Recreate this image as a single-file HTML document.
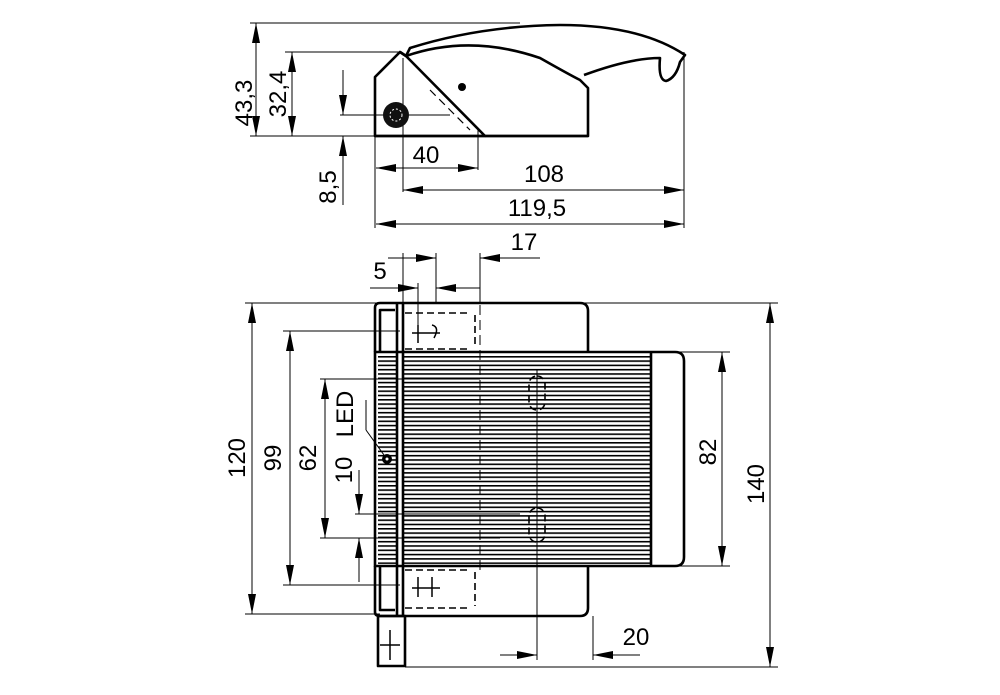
<!DOCTYPE html>
<html><head><meta charset="utf-8"><style>
html,body{margin:0;padding:0;background:#fff;}
svg{display:block}
text{font-family:"Liberation Sans Narrow","Liberation Sans",sans-serif;font-size:24px;fill:#000}
</style></head><body>
<svg width="1000" height="695" viewBox="0 0 1000 695" xmlns="http://www.w3.org/2000/svg">
<defs>
<marker id="a" viewBox="0 0 20 8" refX="20" refY="4" markerWidth="20" markerHeight="8" markerUnits="userSpaceOnUse" orient="auto-start-reverse"><path d="M0,0L20,4L0,8Z" fill="#000"/></marker>
<pattern id="rib" x="0" y="356" width="10" height="4.3" patternUnits="userSpaceOnUse"><rect x="0" y="0" width="10" height="1.6" fill="#000"/></pattern>
</defs>
<g fill="none" stroke="#000" stroke-width="1">
<line x1="250" y1="23" x2="520" y2="23"/>
<line x1="285" y1="52" x2="400" y2="52"/>
<line x1="250" y1="136" x2="375" y2="136"/>
<line x1="340" y1="115" x2="450" y2="115"/>
<line x1="375" y1="136" x2="375" y2="228"/>
<line x1="403" y1="58" x2="403" y2="192"/>
<line x1="478" y1="130" x2="478" y2="170"/>
<line x1="684" y1="52" x2="684" y2="228"/>
<line x1="256" y1="23" x2="256" y2="136" marker-start="url(#a)" marker-end="url(#a)"/>
<line x1="292" y1="52" x2="292" y2="136" marker-start="url(#a)" marker-end="url(#a)"/>
<line x1="343" y1="70" x2="343" y2="115" marker-end="url(#a)"/>
<line x1="343" y1="205" x2="343" y2="136" marker-end="url(#a)"/>
<line x1="376" y1="168" x2="478" y2="168" marker-start="url(#a)" marker-end="url(#a)"/>
<line x1="403" y1="190" x2="684" y2="190" marker-start="url(#a)" marker-end="url(#a)"/>
<line x1="376" y1="224" x2="684" y2="224" marker-start="url(#a)" marker-end="url(#a)"/>
</g>
<g fill="none" stroke="#000" stroke-width="2.6" stroke-linejoin="round">
<path d="M375,136 L375,77 L400,52 L406,56 L485,136 Z"/>
<path d="M400,52 L406,56 Q470,34 540,58 Q570,75 580,80 L588,88 L588,136 L485,136"/>
<path d="M406,56 L410,48 Q480,26 560,25 Q640,25 685,55 L680,62 Q676,78 666,81 Q658,80 660,58 Q630,58 584,75"/>
<line x1="375" y1="136" x2="588" y2="136"/>
</g>
<circle cx="396" cy="115" r="13" fill="#111"/>
<circle cx="396" cy="115" r="6" fill="none" stroke="#fff" stroke-width="1" stroke-dasharray="2 2"/>
<circle cx="462" cy="87" r="4" fill="#000"/>
<line x1="430" y1="90" x2="470" y2="130" stroke="#000" stroke-width="1.2" stroke-dasharray="8 5"/>
<text x="252" y="103" transform="rotate(-90 252 103)" text-anchor="middle">43,3</text>
<text x="286" y="94" transform="rotate(-90 286 94)" text-anchor="middle">32,4</text>
<text x="336" y="187" transform="rotate(-90 336 187)" text-anchor="middle">8,5</text>
<text x="426" y="163" text-anchor="middle">40</text>
<text x="544" y="182" text-anchor="middle">108</text>
<text x="537" y="216" text-anchor="middle">119,5</text>

<g fill="none" stroke="#000" stroke-width="1">
<line x1="245" y1="303" x2="778" y2="303"/>
<line x1="283" y1="331" x2="400" y2="331"/>
<line x1="320" y1="379" x2="480" y2="379"/>
<line x1="320" y1="538" x2="500" y2="538"/>
<line x1="355" y1="514" x2="520" y2="514"/>
<line x1="283" y1="585" x2="400" y2="585"/>
<line x1="245" y1="614" x2="380" y2="614"/>
<line x1="590" y1="352" x2="730" y2="352"/>
<line x1="640" y1="566" x2="730" y2="566"/>
<line x1="405" y1="667" x2="778" y2="667"/>
<line x1="403" y1="253" x2="403" y2="303"/>
<line x1="418" y1="283" x2="418" y2="335"/>
<line x1="436" y1="253" x2="436" y2="303"/>
<line x1="480" y1="253" x2="480" y2="303"/>
<line x1="537" y1="370" x2="537" y2="660"/>
<line x1="593" y1="616" x2="593" y2="660"/>
<line x1="252" y1="303" x2="252" y2="614" marker-start="url(#a)" marker-end="url(#a)"/>
<line x1="290" y1="331" x2="290" y2="585" marker-start="url(#a)" marker-end="url(#a)"/>
<line x1="325" y1="379" x2="325" y2="538" marker-start="url(#a)" marker-end="url(#a)"/>
<line x1="359" y1="470" x2="359" y2="514" marker-end="url(#a)"/>
<line x1="359" y1="582" x2="359" y2="538" marker-end="url(#a)"/>
<line x1="722" y1="352" x2="722" y2="566" marker-start="url(#a)" marker-end="url(#a)"/>
<line x1="770" y1="303" x2="770" y2="667" marker-start="url(#a)" marker-end="url(#a)"/>
<line x1="500" y1="655" x2="537" y2="655" marker-end="url(#a)"/>
<line x1="640" y1="655" x2="593" y2="655" marker-end="url(#a)"/>
<line x1="388" y1="258" x2="436" y2="258" marker-end="url(#a)"/>
<line x1="540" y1="258" x2="480" y2="258" marker-end="url(#a)"/>
<line x1="370" y1="288" x2="418" y2="288" marker-end="url(#a)"/>
<line x1="480" y1="288" x2="436" y2="288" marker-end="url(#a)"/>
<line x1="366" y1="430" x2="384" y2="455"/>
<line x1="366" y1="430" x2="366" y2="400"/>
<line x1="480" y1="260" x2="480" y2="570" stroke-dasharray="10 5"/>
</g>
<rect x="403" y="356" width="248" height="208" fill="url(#rib)"/>
<rect x="378" y="356" width="19" height="208" fill="url(#rib)"/>
<g fill="none" stroke="#000" stroke-width="2.6" stroke-linejoin="round">
<path d="M375,352 L375,308 Q375,303 380,303 L580,303 Q588,303 588,311 L588,352"/>
<path d="M375,566 L375,612 Q375,616 380,616 L580,616 Q588,616 588,608 L588,566"/>
<path d="M375,352 L675,352 Q684,352 684,361 L684,557 Q684,566 675,566 L375,566 Z"/>
<line x1="651" y1="352" x2="651" y2="566"/>
<line x1="397" y1="303" x2="397" y2="616"/>
<line x1="403" y1="303" x2="403" y2="616"/>
<path d="M380,352 L380,310 L395,310"/>
<path d="M380,566 L380,610 L395,610"/>
<rect x="378" y="616" width="27" height="50"/>
</g>
<g fill="none" stroke="#000" stroke-width="1.6" stroke-dasharray="7 4">
<path d="M405,313 L470,313 M405,349 L470,349 M405,570 L470,570 M405,608 L470,608"/>
<path d="M475,315 L475,345 M475,572 L475,606"/>
<rect x="529" y="376" width="16" height="34" rx="8"/>
<rect x="529" y="508" width="16" height="34" rx="8"/>
</g>
<g stroke="#000" stroke-width="1.5" fill="none">
<path d="M418,325 L418,343 M412,333 L440,333 M432,325 Q440,327 434,338"/>
<path d="M418,577 L418,597 M412,588 L440,588 M432,577 L432,597"/>
<path d="M390,630 L390,660 M380,645 L400,645"/>
</g>
<circle cx="387" cy="459" r="5" fill="#000"/>
<circle cx="387" cy="459" r="1.5" fill="#fff"/>
<text x="245" y="458" transform="rotate(-90 245 458)" text-anchor="middle">120</text>
<text x="281" y="458" transform="rotate(-90 281 458)" text-anchor="middle">99</text>
<text x="316" y="458" transform="rotate(-90 316 458)" text-anchor="middle">62</text>
<text x="352" y="470" transform="rotate(-90 352 470)" text-anchor="middle">10</text>
<text x="353" y="414" transform="rotate(-90 353 414)" text-anchor="middle">LED</text>
<text x="716" y="452" transform="rotate(-90 716 452)" text-anchor="middle">82</text>
<text x="764" y="484" transform="rotate(-90 764 484)" text-anchor="middle">140</text>
<text x="636" y="645" text-anchor="middle">20</text>
<text x="380" y="279" text-anchor="middle">5</text>
<text x="524" y="250" text-anchor="middle">17</text>
</svg>
</body></html>
